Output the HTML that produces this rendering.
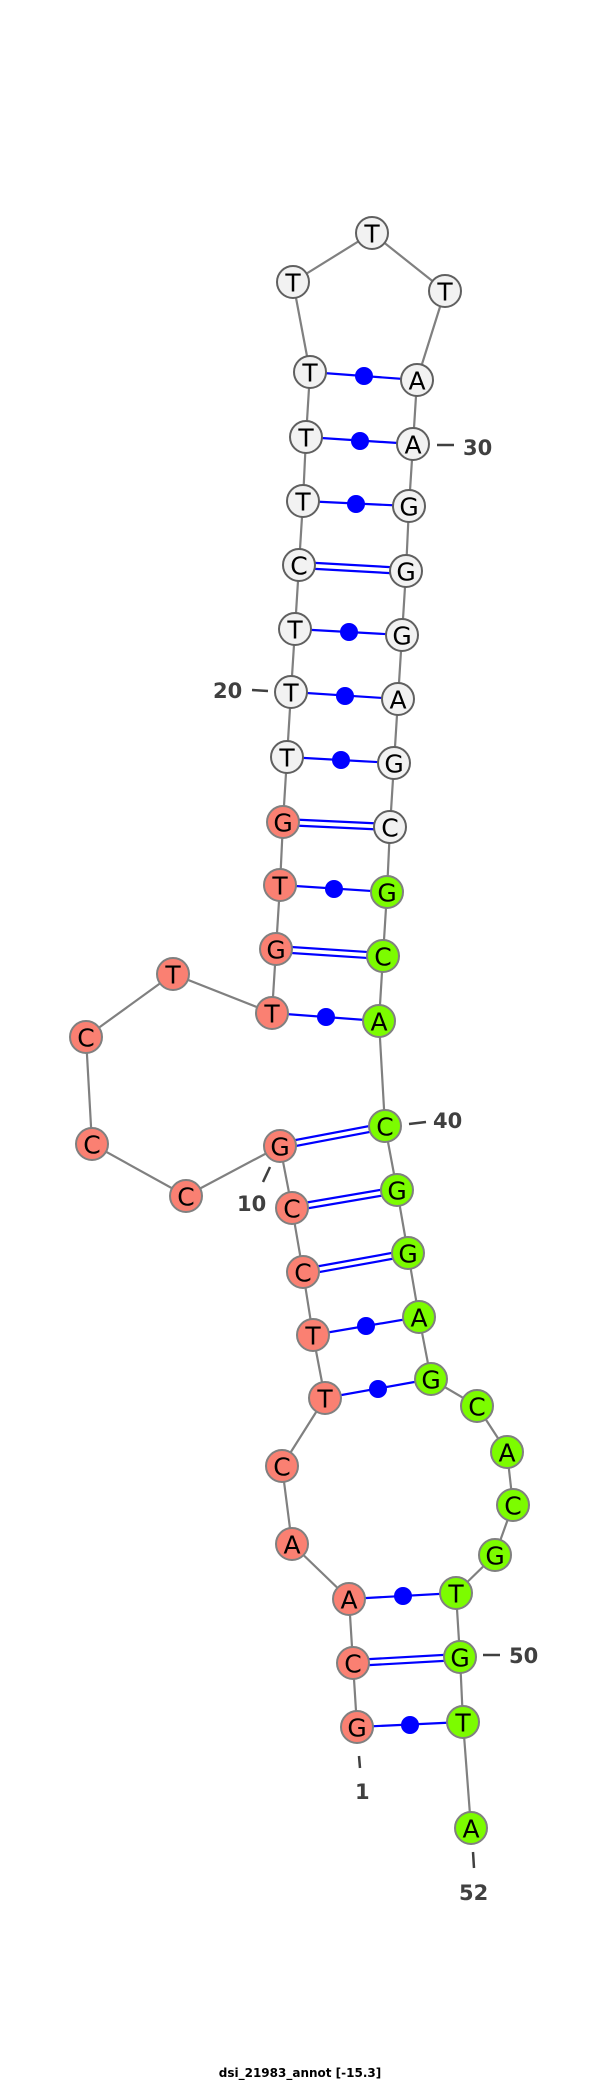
<!DOCTYPE html>
<html><head><meta charset="utf-8"><style>
html,body{margin:0;padding:0;background:#fff;width:600px;height:2081px;overflow:hidden}
svg{display:block}
.bb{stroke:#808080;stroke-width:2.2;fill:none}
.bp{stroke:#0000ff;stroke-width:2.2}
.n text{font-family:"DejaVu Sans","Liberation Sans",sans-serif;font-size:25px;text-anchor:middle;dominant-baseline:central;fill:#000}
.lab{font-family:"DejaVu Sans","Liberation Sans",sans-serif;font-weight:bold;font-size:21px;fill:#404040}
.tick{stroke:#404040;stroke-width:2.5}
</style></head><body>
<svg width="600" height="2081" viewBox="0 0 600 2081" xmlns="http://www.w3.org/2000/svg">
<polyline class="bb" points="357,1727 353,1663 349,1599 292,1544 282,1466 325,1398 313,1335 303,1272 292,1208 280,1146 186,1196 92,1144 86,1037 173,974 272,1013 276,949 280,885 283,822 287,757 291,692 295,629 299,565 303,501 306,437 310,372 293,282 372,233 445,291 417,380 413,444 409,506 406,571 402,635 398,699 394,763 390,827 387,892 383,956 379,1021 385,1126 397,1190 408,1253 419,1317 431,1379 477,1406 507,1452 513,1505 495,1555 456,1593 460,1657 463,1722 471,1828"/>
<g class="bp">
<line x1="357" y1="1727" x2="463" y2="1722"/>
<line x1="353" y1="1660" x2="460" y2="1654"/><line x1="353" y1="1666" x2="460" y2="1660"/>
<line x1="349" y1="1599" x2="456" y2="1593"/>
<line x1="325" y1="1398" x2="431" y2="1379"/>
<line x1="313" y1="1335" x2="419" y2="1317"/>
<line x1="303" y1="1269" x2="408" y2="1250"/><line x1="303" y1="1275" x2="408" y2="1256"/>
<line x1="292" y1="1205" x2="397" y2="1187"/><line x1="292" y1="1211" x2="397" y2="1193"/>
<line x1="280" y1="1143" x2="385" y2="1123"/><line x1="280" y1="1149" x2="385" y2="1129"/>
<line x1="272" y1="1013" x2="379" y2="1021"/>
<line x1="276" y1="946" x2="383" y2="953"/><line x1="276" y1="952" x2="383" y2="959"/>
<line x1="280" y1="885" x2="387" y2="892"/>
<line x1="283" y1="819" x2="390" y2="824"/><line x1="283" y1="825" x2="390" y2="830"/>
<line x1="287" y1="757" x2="394" y2="763"/>
<line x1="291" y1="692" x2="398" y2="699"/>
<line x1="295" y1="629" x2="402" y2="635"/>
<line x1="299" y1="562" x2="406" y2="568"/><line x1="299" y1="568" x2="406" y2="574"/>
<line x1="303" y1="501" x2="409" y2="506"/>
<line x1="306" y1="437" x2="413" y2="444"/>
<line x1="310" y1="372" x2="417" y2="380"/>
</g>
<g fill="#0000ff">
<circle cx="410" cy="1725" r="9"/><circle cx="403" cy="1596" r="9"/><circle cx="378" cy="1389" r="9"/><circle cx="366" cy="1326" r="9"/>
<circle cx="326" cy="1017" r="9"/><circle cx="334" cy="889" r="9"/><circle cx="341" cy="760" r="9"/><circle cx="345" cy="696" r="9"/>
<circle cx="349" cy="632" r="9"/><circle cx="356" cy="504" r="9"/><circle cx="360" cy="441" r="9"/><circle cx="364" cy="376" r="9"/>
</g>
<g class="n" stroke-width="2">
<g fill="#fa8072" stroke="#808080">
<circle cx="357" cy="1727" r="16"/><circle cx="353" cy="1663" r="16"/><circle cx="349" cy="1599" r="16"/><circle cx="292" cy="1544" r="16"/><circle cx="282" cy="1466" r="16"/><circle cx="325" cy="1398" r="16"/><circle cx="313" cy="1335" r="16"/><circle cx="303" cy="1272" r="16"/><circle cx="292" cy="1208" r="16"/><circle cx="280" cy="1146" r="16"/><circle cx="186" cy="1196" r="16"/><circle cx="92" cy="1144" r="16"/><circle cx="86" cy="1037" r="16"/><circle cx="173" cy="974" r="16"/><circle cx="272" cy="1013" r="16"/><circle cx="276" cy="949" r="16"/><circle cx="280" cy="885" r="16"/><circle cx="283" cy="822" r="16"/>
</g>
<g fill="#f2f2f2" stroke="#606060">
<circle cx="287" cy="757" r="16"/><circle cx="291" cy="692" r="16"/><circle cx="295" cy="629" r="16"/><circle cx="299" cy="565" r="16"/><circle cx="303" cy="501" r="16"/><circle cx="306" cy="437" r="16"/><circle cx="310" cy="372" r="16"/><circle cx="293" cy="282" r="16"/><circle cx="372" cy="233" r="16"/><circle cx="445" cy="291" r="16"/><circle cx="417" cy="380" r="16"/><circle cx="413" cy="444" r="16"/><circle cx="409" cy="506" r="16"/><circle cx="406" cy="571" r="16"/><circle cx="402" cy="635" r="16"/><circle cx="398" cy="699" r="16"/><circle cx="394" cy="763" r="16"/><circle cx="390" cy="827" r="16"/>
</g>
<g fill="#7cfc00" stroke="#808080">
<circle cx="387" cy="892" r="16"/><circle cx="383" cy="956" r="16"/><circle cx="379" cy="1021" r="16"/><circle cx="385" cy="1126" r="16"/><circle cx="397" cy="1190" r="16"/><circle cx="408" cy="1253" r="16"/><circle cx="419" cy="1317" r="16"/><circle cx="431" cy="1379" r="16"/><circle cx="477" cy="1406" r="16"/><circle cx="507" cy="1452" r="16"/><circle cx="513" cy="1505" r="16"/><circle cx="495" cy="1555" r="16"/><circle cx="456" cy="1593" r="16"/><circle cx="460" cy="1657" r="16"/><circle cx="463" cy="1722" r="16"/><circle cx="471" cy="1828" r="16"/>
</g>
<text x="357" y="1728">G</text><text x="353" y="1664">C</text><text x="349" y="1600">A</text><text x="292" y="1545">A</text><text x="282" y="1467">C</text><text x="325" y="1399">T</text><text x="313" y="1336">T</text><text x="303" y="1273">C</text><text x="292" y="1209">C</text><text x="280" y="1147">G</text><text x="186" y="1197">C</text><text x="92" y="1145">C</text><text x="86" y="1038">C</text><text x="173" y="975">T</text><text x="272" y="1014">T</text><text x="276" y="950">G</text><text x="280" y="886">T</text><text x="283" y="823">G</text>
<text x="287" y="758">T</text><text x="291" y="693">T</text><text x="295" y="630">T</text><text x="299" y="566">C</text><text x="303" y="502">T</text><text x="306" y="438">T</text><text x="310" y="373">T</text><text x="293" y="283">T</text><text x="372" y="234">T</text><text x="445" y="292">T</text><text x="417" y="381">A</text><text x="413" y="445">A</text><text x="409" y="507">G</text><text x="406" y="572">G</text><text x="402" y="636">G</text><text x="398" y="700">A</text><text x="394" y="764">G</text><text x="390" y="828">C</text>
<text x="387" y="893">G</text><text x="383" y="957">C</text><text x="379" y="1022">A</text><text x="385" y="1127">C</text><text x="397" y="1191">G</text><text x="408" y="1254">G</text><text x="419" y="1318">A</text><text x="431" y="1380">G</text><text x="477" y="1407">C</text><text x="507" y="1453">A</text><text x="513" y="1506">C</text><text x="495" y="1556">G</text><text x="456" y="1594">T</text><text x="460" y="1658">G</text><text x="463" y="1723">T</text><text x="471" y="1829">A</text>
</g>
<g class="tick">
<line x1="437" y1="445" x2="454" y2="445"/>
<line x1="252" y1="690" x2="268" y2="691"/>
<line x1="270" y1="1167" x2="263" y2="1182"/>
<line x1="409" y1="1124" x2="426" y2="1122"/>
<line x1="483" y1="1655" x2="500" y2="1655"/>
<line x1="359" y1="1756" x2="360" y2="1768"/>
<line x1="473" y1="1852" x2="474" y2="1868"/>
</g>
<g class="lab">
<text x="463" y="455">30</text>
<text x="213" y="698">20</text>
<text x="237" y="1211">10</text>
<text x="433" y="1128">40</text>
<text x="509" y="1663">50</text>
<text x="355" y="1799">1</text>
<text x="459" y="1900">52</text>
</g>
<text x="300" y="2077" text-anchor="middle" font-family="DejaVu Sans,Liberation Sans,sans-serif" font-weight="bold" font-size="12" fill="#000">dsi_21983_annot [-15.3]</text>
</svg>
</body></html>
